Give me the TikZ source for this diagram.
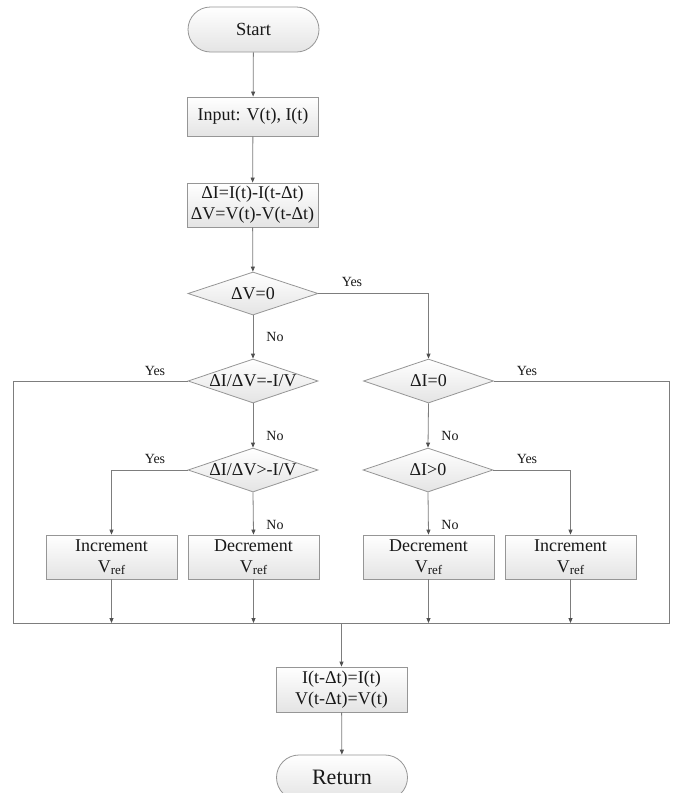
\documentclass[tikz,border=0pt]{standalone}
\usepackage{fontspec}
\setmainfont{Liberation Serif}
\usetikzlibrary{shapes.geometric,shapes.misc,arrows.meta}
\definecolor{ln}{RGB}{125,125,125}
\definecolor{bd}{RGB}{150,150,150}
\definecolor{fl}{RGB}{228,228,228}
\definecolor{tx}{RGB}{25,25,25}
\definecolor{tip}{RGB}{80,80,80}
\newcommand\Vrf{V{\fontsize{13}{13}\selectfont\raisebox{-2.5pt}{ref}}}
\begin{document}
\begin{tikzpicture}[x=1pt,y=-1pt,
  every node/.style={text=tx},
  boxbase/.style={draw=bd, line width=0.8pt, top color=white, bottom color=fl,
    minimum width=131pt, align=center, inner sep=0pt,
    font=\fontsize{18}{21}\selectfont},
  procbox/.style={boxbase, rectangle, minimum height=44pt},
  termbox/.style={boxbase, rounded rectangle, minimum height=45pt},
  decbox/.style={boxbase, diamond, aspect=2.95, minimum width=130pt, minimum height=44pt},
  conn/.style={draw=ln, line width=0.8pt},
  arr/.style={conn, -{Triangle[length=5pt,width=4pt,color=tip]}},
  lbl/.style={font=\fontsize{14}{16}\selectfont, inner sep=0pt}
]
\useasboundingbox (0,0) rectangle (677,793);
\fill[white] (0,0) rectangle (677,793);

% nodes
\node[termbox, font=\fontsize{18.5}{21}\selectfont] (start) at (253.5,29.5) {Start};
\node[procbox, minimum height=39pt] (input) at (253,116.5) {Input: V(t), I(t)};
\node[procbox] (calc) at (252.5,205) {ΔI=I(t)-I(t-Δt)\\ΔV=V(t)-V(t-Δt)};
\node[decbox, minimum height=43pt] (d1) at (253,293.5) {ΔV=0};
\node[decbox] (d2) at (253,381) {ΔI/ΔV=-I/V};
\node[decbox] (d3) at (428.5,381) {ΔI=0};
\node[decbox] (d4) at (253,470) {ΔI/ΔV>-I/V};
\node[decbox] (d5) at (428,470) {ΔI>0};
\node[procbox] (inc1) at (111.5,557) {Increment\\\Vrf};
\node[procbox] (dec1) at (253.5,557) {Decrement\\\Vrf};
\node[procbox] (dec2) at (428.5,557) {Decrement\\\Vrf};
\node[procbox] (inc2) at (570.5,557) {Increment\\\Vrf};
\node[procbox, minimum height=45pt] (upd) at (341.5,689.5) {I(t-Δt)=I(t)\\V(t-Δt)=V(t)};
\node[termbox, font=\fontsize{22}{24}\selectfont] (ret) at (342,777.5) {Return};

% coordinates
\coordinate (cL) at (13,381);
\coordinate (cR) at (669,381);
\coordinate (busL) at (13,623);
\coordinate (busR) at (669,623);
\coordinate (busM) at (341.5,623);

% connectors
\draw[arr] (start) -- (input);
\draw[arr] (input) -- (calc);
\draw[arr] (calc) -- (d1);
\draw[arr] (d1.east) -| (d3.north);
\draw[arr] (d1.south) -- (d2.north);
\draw[conn] (d2.west) -- (cL) -- (busL) -- (busR) -- (cR) -- (d3.east);
\draw[arr] (d2.south) -- (d4.north);
\draw[arr] (d3.south) -- (d5.north);
\draw[arr] (d4.west) -| (inc1.north);
\draw[arr] (d4.south) -- (dec1.north);
\draw[arr] (d5.east) -| (inc2.north);
\draw[arr] (d5.south) -- (dec2.north);
\draw[arr] (inc1.south) -- (inc1.south |- busL);
\draw[arr] (dec1.south) -- (dec1.south |- busL);
\draw[arr] (dec2.south) -- (dec2.south |- busL);
\draw[arr] (inc2.south) -- (inc2.south |- busL);
\draw[arr] (busM) -- (upd.north);
\draw[arr] (upd) -- (ret);

% labels
\node[lbl] (y1) at (352,282) {Yes};
\node[lbl] (n1) at (275,337) {No};
\node[lbl] (y2) at (155,371) {Yes};
\node[lbl] (y3) at (527,371) {Yes};
\node[lbl] (n2) at (275,436) {No};
\node[lbl] (n3) at (450,436) {No};
\node[lbl] (y4) at (155,459) {Yes};
\node[lbl] (y5) at (527,459) {Yes};
\node[lbl] (n4) at (275,525) {No};
\node[lbl] (n5) at (450,525) {No};
\end{tikzpicture}
\end{document}
